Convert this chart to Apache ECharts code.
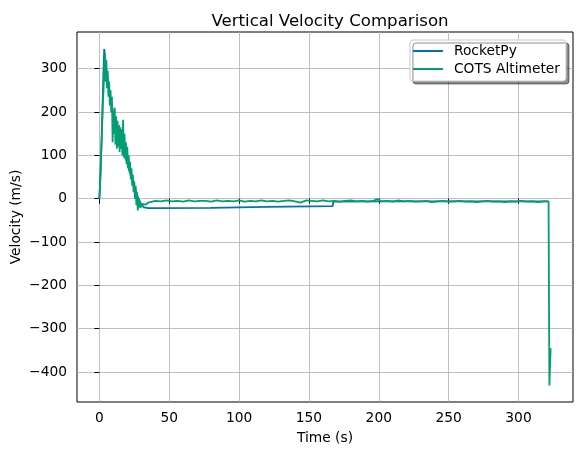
<!DOCTYPE html>
<html>
<head>
<meta charset="utf-8">
<script src="https://cdn.jsdelivr.net/npm/echarts@6/dist/echarts.min.js"></script>
<style>
  html, body { margin: 0; padding: 0; background: #fff; }
  #main { width: 583px; height: 455px; }
</style>
</head>
<body>
<div id="main"></div>
<script>
// tick labels
var xTicks = [0, 50, 100, 150, 200, 250, 300];
var yTicks = [-400, -300, -200, -100, 0, 100, 200, 300];

// RocketPy simulation [time (s), velocity (m/s)]
var rocketpyData = [
  [0, 0], [1, 70], [2, 180], [3, 300], [3.5, 345], [4, 330], [5, 295],
  [6.5, 260], [8, 230], [10, 198], [12, 172], [14, 148], [16, 125], [18, 103],
  [20, 81], [22, 60], [24, 39], [26, 19], [27, 9], [28, 0], [29, -8],
  [30, -14], [32, -20], [35, -22], [40, -22], [80, -21], [120, -19],
  [167, -17], [167.5, -7], [200, -6], [250, -6], [300, -6], [321, -6]
];

// COTS altimeter [time (s), velocity (m/s)]
var altimeterData = [
  [0, 0], [0.5, 30], [1, 80], [1.5, 120], [2, 170], [2.5, 220], [3, 250],
  [3.5, 310], [4, 330], [4.5, 270], [5, 320], [5.5, 255], [6, 295],
  [6.5, 235], [7, 270], [7.5, 215], [8, 250], [8.5, 200], [9, 235],
  [9.5, 130], [10, 200], [10.5, 150], [11, 210], [11.5, 125], [12, 190],
  [12.5, 115], [13, 180], [13.5, 120], [14, 170], [14.5, 108], [15, 165],
  [15.5, 115], [16, 160], [16.5, 100], [17, 182], [17.5, 95], [18, 150],
  [18.5, 92], [19, 130], [19.5, 80], [20, 120], [20.5, 70], [21, 100],
  [21.5, 62], [22, 85], [22.5, 45], [23, 70], [23.5, 30], [24, 55],
  [24.5, 15], [25, 40], [25.5, 0], [26, 30], [26.5, -15], [27, 15],
  [27.5, -27], [28, 0], [28.5, -20], [29, -5], [29.5, -22], [30, -10],
  [30.5, -18], [31, -12], [32, -16], [33, -14], [34, -12], [35, -9],
  [36, -7], [40, -5], [44, -6], [48, -4], [52, -6], [56, -5], [60, -7],
  [64, -4], [68, -6], [72, -5], [76, -5], [80, -7], [84, -4], [88, -6],
  [92, -5], [96, -6], [100, -4], [104, -7], [108, -5], [112, -6], [116, -4],
  [120, -6], [124, -5], [128, -7], [132, -5], [136, -4], [140, -6], [144, -9],
  [148, -4], [152, -5], [156, -6], [160, -4], [164, -6], [168, -5], [172, -7],
  [176, -5], [180, -4], [184, -6], [188, -5], [192, -7], [196, -5], [199, -1],
  [202, -6], [206, -5], [210, -7], [214, -4], [218, -6], [222, -5], [226, -7],
  [230, -6], [234, -5], [238, -8], [242, -6], [246, -5], [250, -7], [254, -6],
  [258, -5], [262, -7], [266, -6], [270, -8], [274, -6], [278, -5], [282, -7],
  [286, -6], [290, -8], [294, -6], [298, -7], [302, -5], [306, -7], [310, -6],
  [314, -8], [318, -6], [321.5, -6], [322.1, -431], [323, -345]
];

var chart = echarts.init(document.getElementById('main'));
var font = 'DejaVu Sans';

// matplotlib writes negatives with a real minus sign
function minusFmt(v) {
  return String(v).replace('-', '\u2212');
}

var option = {
  backgroundColor: '#fff',
  animation: false,
  textStyle: { fontFamily: font },
  title: {
    text: 'Vertical Velocity Comparison',
    left: 325,
    top: 8,
    textAlign: 'center',
    textStyle: { fontFamily: font, fontSize: 16.6, fontWeight: 'normal', color: '#000' }
  },
  legend: {
    orient: 'vertical',
    right: 17,
    top: 40,
    padding: [4, 6, 5, 3],
    itemGap: 4,
    itemWidth: 30,
    itemHeight: 2,
    icon: 'rect',
    backgroundColor: '#fff',
    borderColor: '#cccccc',
    borderWidth: 1,
    borderRadius: 3,
    shadowColor: 'rgba(0,0,0,0.45)',
    shadowBlur: 0,
    shadowOffsetX: 3,
    shadowOffsetY: 3,
    textStyle: { fontFamily: font, fontSize: 13.8, color: '#000', padding: [0, 0, 0, 6] },
    data: ['RocketPy', 'COTS Altimeter']
  },
  grid: {
    left: 77,
    right: 10,
    top: 32,
    bottom: 53,
    show: true,
    borderColor: '#000',
    borderWidth: 1,
    outerBoundsMode: 'none'
  },
  xAxis: {
    type: 'value',
    min: -16,
    max: 339,
    name: 'Time (s)',
    nameLocation: 'middle',
    nameGap: 29,
    nameMoveOverlap: false,
    nameTextStyle: { fontFamily: font, fontSize: 13.8, color: '#000' },
    axisLine: { show: false },
    axisTick: { show: true, customValues: xTicks, length: 5, lineStyle: { color: '#000' } },
    axisLabel: { customValues: xTicks, fontSize: 13.8, color: '#000', margin: 9, formatter: minusFmt },
    splitLine: { show: true, lineStyle: { color: '#b0b0b0', width: 0.8 } }
  },
  yAxis: {
    type: 'value',
    min: -469,
    max: 384.5,
    name: 'Velocity (m/s)',
    nameLocation: 'middle',
    nameGap: 54,
    nameMoveOverlap: false,
    nameTextStyle: { fontFamily: font, fontSize: 13.8, color: '#000' },
    axisLine: { show: false },
    axisTick: { show: true, customValues: yTicks, length: 5, lineStyle: { color: '#000' } },
    axisLabel: { customValues: yTicks, fontSize: 13.8, color: '#000', margin: 10, formatter: minusFmt },
    splitLine: { show: true, lineStyle: { color: '#b0b0b0', width: 0.8 } }
  },
  series: [
    {
      name: 'RocketPy',
      type: 'line',
      data: rocketpyData,
      showSymbol: false,
      color: '#0072B2',
      lineStyle: { width: 1.8 }
    },
    {
      name: 'COTS Altimeter',
      type: 'line',
      data: altimeterData,
      showSymbol: false,
      color: '#009E73',
      lineStyle: { width: 1.8 }
    }
  ]
};

chart.setOption(option);
</script>
</body>
</html>
